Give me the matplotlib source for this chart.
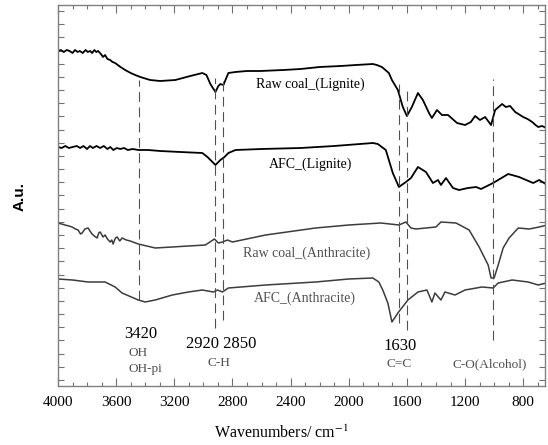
import matplotlib
matplotlib.use("Agg")
import matplotlib.pyplot as plt
from matplotlib.ticker import MultipleLocator, FixedLocator

# FTIR spectra (wavenumber cm-1, offset absorbance in a.u.)
wn_raw_lig = [4000, 3980, 3960, 3940, 3920, 3900, 3883, 3865, 3850, 3830, 3810, 3795, 3779,
              3765, 3750, 3737, 3724, 3705, 3690, 3676, 3660, 3641, 3625, 3607,
              3570, 3538, 3500, 3469, 3434, 3366, 3297, 3193, 3090, 3007, 2979, 2952,
              2917, 2897, 2883, 2862, 2848, 2828, 2779, 2700, 2607, 2450, 2331, 2200,
              2055, 1950, 1834, 1807, 1772, 1724, 1703, 1662, 1628, 1600, 1566, 1524,
              1490, 1448, 1428, 1393, 1359, 1317, 1255, 1200, 1160, 1131, 1097, 1062,
              1021, 993, 945, 920, 890, 855, 800, 770, 738, 715, 697, 670, 641]
a_raw_lig = [335, 336, 334, 336, 335, 333, 336, 334, 335, 333, 336, 334, 335,
             333, 336, 334, 335, 332, 329, 331, 327, 326, 324, 323,
             319, 316, 313, 311, 309, 306, 305, 306, 310, 313, 311, 302,
             294, 300, 302, 301, 306, 313, 314, 315, 315, 316, 317, 319,
             320, 321, 322, 321, 319, 313, 306, 296, 279, 270, 279, 293,
             286, 273, 268, 276, 271, 271, 263, 261, 264, 270, 266, 269,
             261, 276, 282, 279, 280, 274, 269, 267, 264, 261, 259, 260, 258]

wn_afc_lig = [4000, 3975, 3950, 3925, 3900, 3870, 3848, 3825, 3800, 3780, 3760, 3735, 3710,
              3685, 3660, 3640, 3620, 3595, 3572, 3545, 3520, 3485, 3448, 3380, 3297,
              3159, 3007, 2972, 2917, 2883, 2855, 2828, 2779, 2600, 2331, 2100, 1834,
              1800, 1745, 1697, 1655, 1607, 1572, 1524, 1469, 1421, 1386, 1366, 1331,
              1283, 1241, 1180, 1124, 1090, 1007, 903, 828, 780, 731, 690, 634]
a_afc_lig = [239, 238, 240, 238, 239, 240, 238, 240, 237, 240, 238, 240, 238,
             240, 237, 239, 236, 238, 237, 238, 236, 237, 236, 236, 235,
             234, 233, 229, 221, 226, 229, 233, 236, 237, 238, 240, 243,
             242, 236, 213, 199, 204, 208, 219, 214, 203, 206, 201, 208,
             198, 196, 198, 199, 197, 203, 212, 209, 206, 203, 206, 201]

wn_raw_ant = [4000, 3975, 3952, 3925, 3903, 3880, 3862, 3845, 3834, 3815, 3793, 3780, 3766,
              3750, 3731, 3720, 3710, 3690, 3676, 3660, 3641, 3630, 3621, 3605, 3593,
              3575, 3559, 3530, 3503, 3448, 3331, 3214, 3103, 2986, 2945, 2924, 2897,
              2869, 2834, 2800, 2572, 2228, 2000, 1779, 1655, 1607, 1572, 1538, 1400,
              1366, 1262, 1172, 1103, 1041, 1021, 1000, 972, 938, 897, 834, 759, 690, 634]
a_raw_ant = [163, 162, 161, 160, 159, 157, 156, 152, 153, 157, 158, 155, 152,
             150, 148, 153, 154, 149, 151, 147, 144, 146, 142, 148, 149,
             145, 148, 146, 145, 142, 138, 139, 140, 141, 145, 147, 143,
             144, 146, 144, 151, 158, 161, 163, 161, 164, 158, 157, 159,
             164, 163, 156, 139, 121, 108, 108, 121, 138, 148, 158, 157, 159, 161]

wn_afc_ant = [4000, 3900, 3793, 3676, 3607, 3559, 3448, 3400, 3331, 3214, 3103, 3007, 2931,
              2903, 2869, 2828, 2572, 2228, 2000, 1834, 1793, 1766, 1731, 1703, 1662,
              1593, 1524, 1462, 1428, 1407, 1366, 1338, 1269, 1200, 1083, 1007, 972,
              876, 766, 697, 641]
a_afc_ant = [107, 106, 104, 104, 99, 93, 86, 84, 86, 91, 94, 96, 94,
             96, 94, 98, 101, 104, 107, 108, 104, 96, 83, 64, 73,
             86, 94, 96, 84, 93, 86, 94, 91, 96, 99, 98, 103,
             106, 104, 101, 103]

# band markers: position, lower end, upper end
band_pos = [3445, 2920, 2865, 1653, 1600, 1010]
band_lo = [86, 58, 66, 63, 56, 46]
band_hi = [306, 308, 308, 306, 300, 307]

plt.rcParams["lines.scale_dashes"] = False
plt.rcParams["mathtext.fontset"] = "stix"
serif = ["Liberation Serif", "DejaVu Serif"]
gray = "#505050"

fig = plt.figure(figsize=(5.48, 4.45), dpi=100)
ax = fig.add_axes([58 / 548, 1 - 386 / 445, 487 / 548, 381 / 445])

ax.plot(wn_raw_lig, a_raw_lig, color="black", lw=1.3)
ax.plot(wn_afc_lig, a_afc_lig, color="black", lw=1.3)
ax.plot(wn_raw_ant, a_raw_ant, color="#3c3c3c", lw=1.1)
ax.plot(wn_afc_ant, a_afc_ant, color="#3c3c3c", lw=1.1)

for p, lo, hi in zip(band_pos, band_lo, band_hi):
    ax.plot([p, p], [lo, hi], color=gray, lw=0.8, dashes=(7, 4))

ax.set_xlim(4000, 650)
ax.set_ylim(0, 381)

ax.xaxis.set_major_locator(MultipleLocator(400))
ax.xaxis.set_minor_locator(MultipleLocator(100))
ax.yaxis.set_major_locator(FixedLocator([6 + 13.18 * k for k in range(29)]))
ax.yaxis.set_major_formatter(plt.NullFormatter())
ax.tick_params(axis="x", which="major", direction="in", length=6, width=0.8,
               top=True, colors="#707070", labelcolor="black", pad=7, labelsize=11)
ax.tick_params(axis="x", which="minor", direction="in", length=3, width=0.8,
               top=True, colors="#707070")
ax.tick_params(axis="y", which="major", direction="in", length=4, width=0.8,
               right=True, colors="#707070")
for lab in ax.get_xticklabels():
    lab.set_family(serif)
for s in ax.spines.values():
    s.set_color("#808080")
    s.set_linewidth(1.0)

ax.text(2262, 302, "Raw coal_(Lignite)", ha="center", va="center", fontsize=10, family=serif)
ax.text(2262, 222, "AFC_(Lignite)", ha="center", va="center", fontsize=10, family=serif)
ax.text(2290, 133, "Raw coal_(Anthracite)", ha="center", va="center", fontsize=10,
        family=serif, color=gray)
ax.text(2303, 88, "AFC_(Anthracite)", ha="center", va="center", fontsize=10,
        family=serif, color=gray)

ax.text(3428, 52, "3420", ha="center", va="center", fontsize=12, family=serif)
ax.text(3517, 33, "OH", ha="left", va="center", fontsize=9.5, family=serif, color=gray)
ax.text(3517, 17, "OH-pi", ha="left", va="center", fontsize=9.5, family=serif, color=gray)
ax.text(2875, 42, "2920 2850", ha="center", va="center", fontsize=12, family=serif)
ax.text(2890, 23, "C-H", ha="center", va="center", fontsize=9.5, family=serif, color=gray)
ax.text(1648, 40, "1630", ha="center", va="center", fontsize=12, family=serif)
ax.text(1655, 22, "C=C", ha="center", va="center", fontsize=9.5, family=serif, color=gray)
ax.text(1028, 22, "C-O(Alcohol)", ha="center", va="center", fontsize=9.5, family=serif,
        color=gray)

fig.text(281 / 548, 1 - 433 / 445, "Wavenumbers/ cm$^{-1}$", ha="center", va="center",
         fontsize=11.5, family=serif)
fig.text(20 / 548, 1 - 196 / 445, "A.u.", rotation=90, ha="center", va="center",
         fontsize=11, fontweight="bold", family=["Liberation Sans", "DejaVu Sans"])

fig.savefig("out.png", dpi=100)
